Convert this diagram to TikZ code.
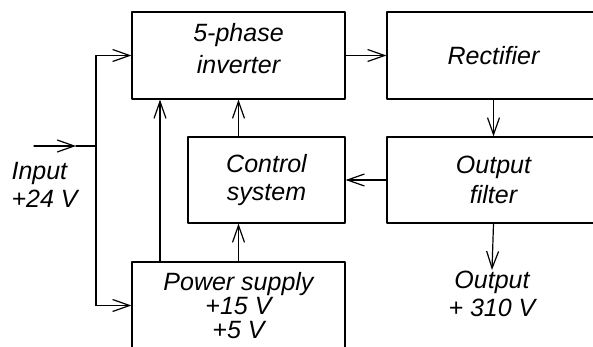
\documentclass[tikz,border=0pt]{standalone}
\usepackage{fontspec}
\setmainfont{Liberation Sans}
\usetikzlibrary{arrows.meta}
\usetikzlibrary{positioning}

\begin{document}
\begin{tikzpicture}[x=0.5pt, y=-0.5pt, line join=round, line cap=round, line width=0.6pt,
  blk/.style={draw, inner sep=0pt, minimum width=106.5pt, minimum height=43.5pt,
    align=center, font=\fontsize{12.5}{15}\selectfont\itshape},
  txt/.style={inner sep=0pt, align=center, font=\fontsize{12.5}{14}\selectfont\itshape},
  arr/.style={-{Straight Barb[length=8.5pt,width=6pt]}}]

\clip (0,0) rectangle (593,347);

\node[blk, text depth=7pt, font=\fontsize{12.5}{16}\selectfont\itshape] (inv) at (238.5,55.5) {5-phase\\inverter};
\node[blk] (rect) at (493.5,55.5) {Rectifier};
\node[blk, minimum width=78.5pt, minimum height=43pt, font=\fontsize{12.5}{14}\selectfont\itshape] (ctrl) at (266.5,180) {Control\\system};
\node[blk, minimum height=43pt] (filt) at (493.5,180) {Output\\filter};
\node[blk, font=\fontsize{12.5}{12}\selectfont\itshape] (psu) at (238.5,305.5) {Power supply\\+15 V\\+5 V};

\node[txt, align=left, anchor=west] (in) at (11,185) {Input\\+24 V};
\node[txt, anchor=north] (out) at (492,270) {Output\\+ 310 V};

\coordinate (src) at (34,146);
\coordinate (tip) at (76,146);
\coordinate (bus) at (96,146);
\coordinate (bustop) at (96,55.5);
\coordinate (busbot) at (96,305.5);

% input bus
\draw[arr] (src) -- (tip);
\draw (tip) -- (bus);
\draw (bustop) -- (busbot);
\draw[arr] (bustop) -- (inv.west);
\draw[arr] (busbot) -- (psu.west);

% power path
\draw[arr] (inv.east) -- (rect.west);
\draw[arr] (rect.south) -- (filt.north);
\draw[arr] (filt.south) -- (out.north);
\draw[arr] (filt.west) -- (ctrl.east);

% supply and control
\draw[arr] (psu.north -| 160,0) -- (inv.south -| 160,0);
\draw[arr] (psu.north) -- (ctrl.south -| psu.north);
\draw[arr] (ctrl.north -| inv.south) -- (inv.south);

\end{tikzpicture}
\end{document}
